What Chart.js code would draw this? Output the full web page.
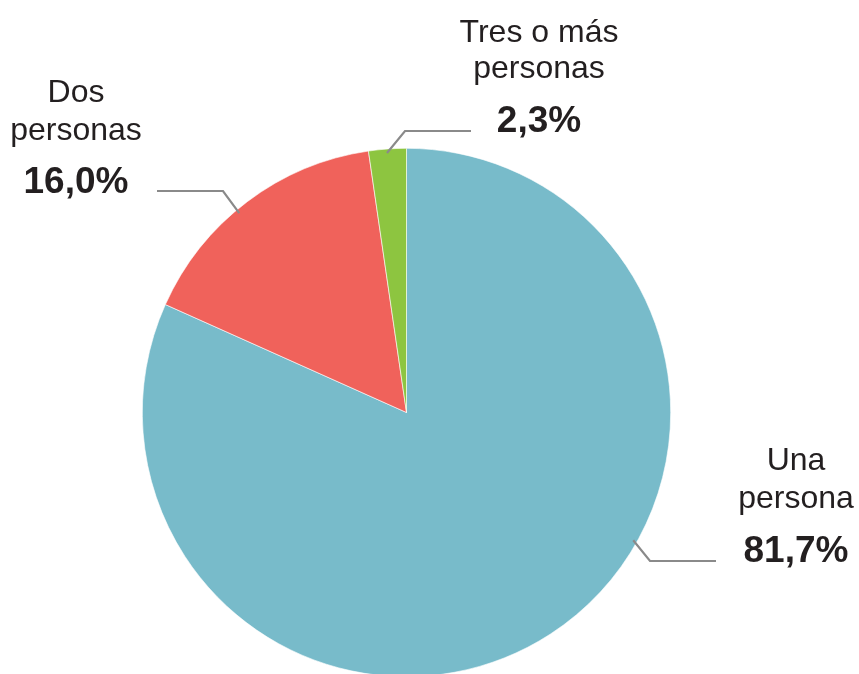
<!DOCTYPE html>
<html>
<head>
<meta charset="utf-8">
<script src="https://cdn.jsdelivr.net/npm/chart.js@4"></script>
<style>
  html, body { margin: 0; padding: 0; background: #ffffff; overflow: hidden; }
  #wrap { width: 859px; height: 700px; position: relative; }
</style>
</head>
<body>
<div id="wrap"><canvas id="c" width="859" height="700"></canvas></div>
<script>
// ---- data ----
const categories = ["Una persona", "Dos personas", "Tres o más personas"];
const labelLines = [["Una", "persona"], ["Dos", "personas"], ["Tres o más", "personas"]];
const values = [81.7, 16.0, 2.3];
const valueLabels = ["81,7%", "16,0%", "2,3%"];
const colors = ["#78bbca", "#f0625b", "#8dc540"];

// ---- annotation layout (label placement, not data) ----
// anchor angle (degrees clockwise from top) on the pie, elbow point, line end x, text centre x, baselines
const labelLayout = [
  { angle: 119.4, elbow: [650, 561], endX: 716, textX: 796, base: [470, 508, 562] },
  { angle: 320.0, elbow: [223, 191], endX: 157, textX: 76,  base: [102, 140, 193] },
  { angle: 355.7, elbow: [405, 131], endX: 471, textX: 539, base: [42, 78, 132] }
];

const labelPlugin = {
  id: 'leaderLabels',
  afterDatasetsDraw(chart) {
    const ctx = chart.ctx;
    const meta = chart.getDatasetMeta(0);
    meta.data.forEach((arc, i) => {
      const L = labelLayout[i];
      const a = L.angle * Math.PI / 180;
      const r = arc.outerRadius * 0.985;
      const ax = arc.x + Math.sin(a) * r;
      const ay = arc.y - Math.cos(a) * r;
      ctx.save();
      ctx.strokeStyle = '#8a8a8a';
      ctx.lineWidth = 2.2;
      ctx.beginPath();
      ctx.moveTo(ax, ay);
      ctx.lineTo(L.elbow[0], L.elbow[1]);
      ctx.lineTo(L.endX, L.elbow[1]);
      ctx.stroke();
      ctx.fillStyle = '#231f20';
      ctx.textAlign = 'center';
      ctx.textBaseline = 'alphabetic';
      ctx.font = '32px "Liberation Sans", Arial, sans-serif';
      ctx.fillText(labelLines[i][0], L.textX, L.base[0]);
      ctx.fillText(labelLines[i][1], L.textX, L.base[1]);
      ctx.font = 'bold 37px "Liberation Sans", Arial, sans-serif';
      ctx.fillText(valueLabels[i], L.textX, L.base[2]);
      ctx.restore();
    });
  }
};

new Chart(document.getElementById('c'), {
  type: 'pie',
  data: {
    labels: categories,
    datasets: [{
      data: values,
      backgroundColor: colors,
      borderColor: '#ffffff',
      borderWidth: 0.6
    }]
  },
  options: {
    responsive: false,
    animation: false,
    rotation: 0,
    layout: { padding: { left: 142, right: 188, top: 148, bottom: 23 } },
    plugins: {
      legend: { display: false },
      tooltip: { enabled: false },
      title: { display: false }
    }
  },
  plugins: [labelPlugin]
});
</script>
</body>
</html>
